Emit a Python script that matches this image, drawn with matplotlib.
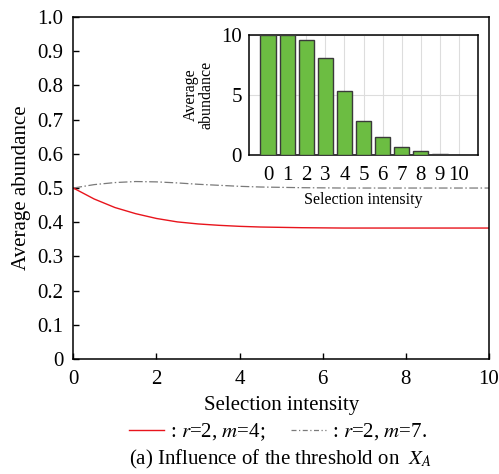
import numpy as np
import matplotlib.pyplot as plt
from matplotlib.lines import Line2D

plt.rcParams['font.family'] = ['Liberation Serif', 'DejaVu Serif']
plt.rcParams['mathtext.fontset'] = 'stix'

# main curves, sampled every 0.5 along the selection intensity axis
intensity = [0, 0.5, 1, 1.5, 2, 2.5, 3, 3.5, 4, 4.5, 5, 5.5, 6, 6.5, 7,
             7.5, 8, 8.5, 9, 9.5, 10]
abund_m4 = [0.500, 0.468, 0.443, 0.425, 0.411, 0.401, 0.395, 0.391, 0.388,
            0.386, 0.385, 0.384, 0.3835, 0.383, 0.383, 0.383, 0.383, 0.383,
            0.383, 0.383, 0.383]
abund_m7 = [0.500, 0.510, 0.516, 0.519, 0.518, 0.515, 0.511, 0.508, 0.505,
            0.503, 0.502, 0.501, 0.5005, 0.500, 0.500, 0.500, 0.500, 0.500,
            0.500, 0.500, 0.500]

# inset bars
bar_x = [0, 1, 2, 3, 4, 5, 6, 7, 8, 9, 10]
bar_vals = [10.0, 10.0, 9.62, 8.1, 5.32, 2.86, 1.46, 0.7, 0.32, 0.1, 0.02]

ytick_vals = [0, 0.1, 0.2, 0.3, 0.4, 0.5, 0.6, 0.7, 0.8, 0.9, 1.0]
ytick_labels = ['0', '0.1', '0.2', '0.3', '0.4', '0.5', '0.6', '0.7', '0.8', '0.9', '1.0']

fs = 15

fig = plt.figure(figsize=(4.99, 4.74), dpi=100)
ax = fig.add_axes([0.147, 0.2426, 0.833, 0.7214])

ax.plot(intensity, abund_m7, color='#7a7a7a', lw=0.9, dashes=(7, 2, 1.2, 2))
ax.plot(intensity, abund_m4, color='#e8141c', lw=1.0)

ax.set_xlim(0, 10)
ax.set_ylim(0, 1.0)
ax.set_xticks([0, 2, 4, 6, 8, 10])
ax.set_yticks(ytick_vals)
ax.set_yticklabels(ytick_labels)
ax.tick_params(direction='in', length=4, width=1, labelsize=fs)
ax.tick_params(axis='x', pad=8)
ax.tick_params(axis='y', pad=7)
for s in ax.spines.values():
    s.set_linewidth(1.1)
ax.set_xlabel('Selection intensity', fontsize=fs, labelpad=5)
ax.set_ylabel('Average abundance', fontsize=fs, labelpad=5)

# inset: bars
ins = fig.add_axes([0.499, 0.673, 0.459, 0.253])
ins.bar(bar_x, bar_vals, width=0.8, color='#6cbd42', edgecolor='#3a3a3a', lw=1.0, zorder=3)
ins.set_xlim(-1, 11)
ins.set_ylim(0, 10)
ins.set_xticks(bar_x)
ins.set_yticks([0, 5, 10])
ins.grid(True, color='#dddddd', lw=0.8, zorder=0)
ins.tick_params(length=0, labelsize=fs)
ins.tick_params(axis='x', pad=8)
ins.tick_params(axis='y', pad=5)
for s in ins.spines.values():
    s.set_linewidth(1.1)
ins.set_xlabel('Selection intensity', fontsize=11.5, labelpad=5)
ins.set_ylabel('Average\nabundance', fontsize=11.5, labelpad=5, linespacing=0.95)

# legend below the axes
handles = [Line2D([], [], color='#e8141c', lw=1.0),
           Line2D([], [], color='#7a7a7a', lw=0.9, dashes=(4, 2, 1, 2))]
labels = [': $r$=2, $m$=4;', ': $r$=2, $m$=7.']
fig.legend(handles, labels, loc='center', bbox_to_anchor=(0.557, 0.089), ncol=2,
           frameon=False, fontsize=fs, handlelength=1.7, handletextpad=0.3,
           columnspacing=1.2)

fig.text(0.562, 0.03, '(a) Influence of the threshold on  $X_A$', fontsize=fs,
         ha='center', va='center')

fig.savefig('out.png', dpi=100)
